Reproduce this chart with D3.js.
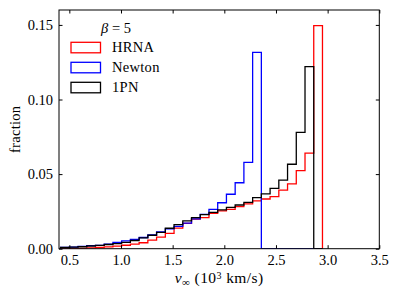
<!DOCTYPE html>
<html>
<head>
<meta charset="utf-8">
<script src="https://cdn.jsdelivr.net/npm/d3@7"></script>
<style>
  body { margin: 0; background: #fff; }
  text { font-family: "Liberation Serif", "DejaVu Serif", serif; }
</style>
</head>
<body>
<script>
// bin grid (shared by all three histograms)
var binStart = 0.415;
var binWidth = 0.0845;
var nBins = 30;

// fraction per bin
var hrna = [0, 0, 0.0002, 0.0005, 0.0008, 0.0012, 0.0017, 0.0023, 0.003, 0.004,
            0.0058, 0.0078, 0.0103, 0.0138, 0.017, 0.0198, 0.0208, 0.0237, 0.0253, 0.0264,
            0.0282, 0.030, 0.032, 0.0333, 0.0349, 0.0393, 0.0434, 0.0523, 0.064, 0.1495];
var newton = [0.0008, 0.001, 0.0015, 0.002, 0.0022, 0.003, 0.0043, 0.0052, 0.0063, 0.0075,
              0.0092, 0.0112, 0.0133, 0.015, 0.0172, 0.02, 0.023, 0.0264, 0.0308, 0.0365,
              0.0442, 0.0579, 0.1316, 0, 0, 0, 0, 0, 0, 0];
var pn1 = [0.0008, 0.001, 0.0013, 0.0018, 0.0022, 0.0028, 0.0034, 0.0042, 0.0055, 0.0072,
           0.009, 0.011, 0.0137, 0.0162, 0.0186, 0.0208, 0.0228, 0.0244, 0.026, 0.0277,
           0.0293, 0.031, 0.0342, 0.0367, 0.0405, 0.046, 0.0566, 0.078, 0.122, 0];

var labels = ["HRNA", "Newton", "1PN"];
var colors = ["#ff0000", "#0000ff", "#000000"];
var series = [hrna, newton, pn1];

var xTicks = [0.5, 1.0, 1.5, 2.0, 2.5, 3.0, 3.5];
var yTicks = [0, 0.05, 0.10, 0.15];

var W = 399, H = 298;
var pLeft = 59, pRight = 379.3, pTop = 10, pBottom = 248.7;
var fs = 14.5;

var svg = d3.select("body").append("svg")
    .attr("width", W)
    .attr("height", H);

var x = d3.scaleLinear().domain([0.4, 3.5]).range([pLeft, pRight]);
var y = d3.scaleLinear().domain([0, 0.16]).range([pBottom, pTop]);

svg.append("clipPath").attr("id", "clip")
  .append("rect")
    .attr("x", pLeft).attr("y", pTop)
    .attr("width", pRight - pLeft).attr("height", pBottom - pTop);

// step outline for one histogram
function stepPoints(vals) {
  var pts = [[binStart, 0]];
  vals.forEach(function(v, i) {
    var e0 = binStart + i * binWidth;
    pts.push([e0, v]);
    pts.push([e0 + binWidth, v]);
  });
  pts.push([binStart + nBins * binWidth, 0]);
  return pts;
}

var line = d3.line()
    .x(function(d) { return x(d[0]); })
    .y(function(d) { return y(d[1]); });

svg.append("g").attr("clip-path", "url(#clip)")
  .selectAll("path")
  .data(series)
  .enter()
  .append("path")
    .attr("d", function(d) { return line(stepPoints(d)); })
    .attr("fill", "none")
    .attr("stroke", function(d, i) { return colors[i]; })
    .attr("stroke-width", 1.3)
    .attr("stroke-linejoin", "miter");

// axes, ticks inward on all four sides
var fmt = d3.format(".1f");
var fmtY = d3.format(".2f");

svg.append("g").attr("transform", "translate(0," + pBottom + ")")
    .call(d3.axisBottom(x).tickValues(xTicks).tickFormat(fmt).tickSizeInner(-3.5).tickSizeOuter(0).tickPadding(6));
svg.append("g").attr("transform", "translate(0," + pTop + ")")
    .call(d3.axisTop(x).tickValues(xTicks).tickFormat("").tickSizeInner(-3.5).tickSizeOuter(0));
svg.append("g").attr("transform", "translate(" + pLeft + ",0)")
    .call(d3.axisLeft(y).tickValues(yTicks).tickFormat(fmtY).tickSizeInner(-3.5).tickSizeOuter(0).tickPadding(6));
svg.append("g").attr("transform", "translate(" + pRight + ",0)")
    .call(d3.axisRight(y).tickValues(yTicks).tickFormat("").tickSizeInner(-3.5).tickSizeOuter(0));

svg.selectAll(".domain").remove();
svg.selectAll(".tick line").attr("stroke", "#000").attr("stroke-width", 1);
svg.selectAll(".tick text")
    .attr("font-family", "Liberation Serif")
    .attr("font-size", fs)
    .attr("fill", "#000");

svg.append("rect")
    .attr("x", pLeft).attr("y", pTop)
    .attr("width", pRight - pLeft).attr("height", pBottom - pTop)
    .attr("fill", "none")
    .attr("stroke", "#000")
    .attr("stroke-width", 1);

// axis labels
var xl = svg.append("text")
    .attr("x", (pLeft + pRight) / 2)
    .attr("y", 283)
    .attr("text-anchor", "middle")
    .attr("font-size", 15.5)
    .attr("letter-spacing", 0.4);
xl.append("tspan").attr("font-style", "italic").text("v");
xl.append("tspan").attr("font-size", 11).attr("dy", 3).text("∞");
xl.append("tspan").attr("dy", -3).text(" (10");
xl.append("tspan").attr("font-size", 10).attr("dy", -4.5).text("3");
xl.append("tspan").attr("dy", 4.5).text(" km/s)");

svg.append("text")
    .attr("transform", "translate(20," + ((pTop + pBottom) / 2) + ") rotate(-90)")
    .attr("text-anchor", "middle")
    .attr("font-size", fs)
    .attr("letter-spacing", 0.3)
    .text("fraction");

// legend
var legend = svg.append("g");
var lt = legend.append("text")
    .attr("x", 116).attr("y", 33)
    .attr("text-anchor", "middle")
    .attr("font-size", fs);
lt.append("tspan").attr("font-style", "italic").text("β");
lt.append("tspan").text(" = 5");

var items = legend.selectAll(".item")
  .data(labels)
  .enter()
  .append("g")
    .attr("transform", function(d, i) { return "translate(71," + (42.3 + i * 20) + ")"; });

items.append("rect")
    .attr("width", 29.5).attr("height", 10.5)
    .attr("fill", "none")
    .attr("stroke", function(d, i) { return colors[i]; })
    .attr("stroke-width", 1.3);

items.append("text")
    .attr("x", 41).attr("y", 10)
    .attr("font-size", fs)
    .attr("letter-spacing", 0.3)
    .text(function(d) { return d; });
</script>
</body>
</html>
